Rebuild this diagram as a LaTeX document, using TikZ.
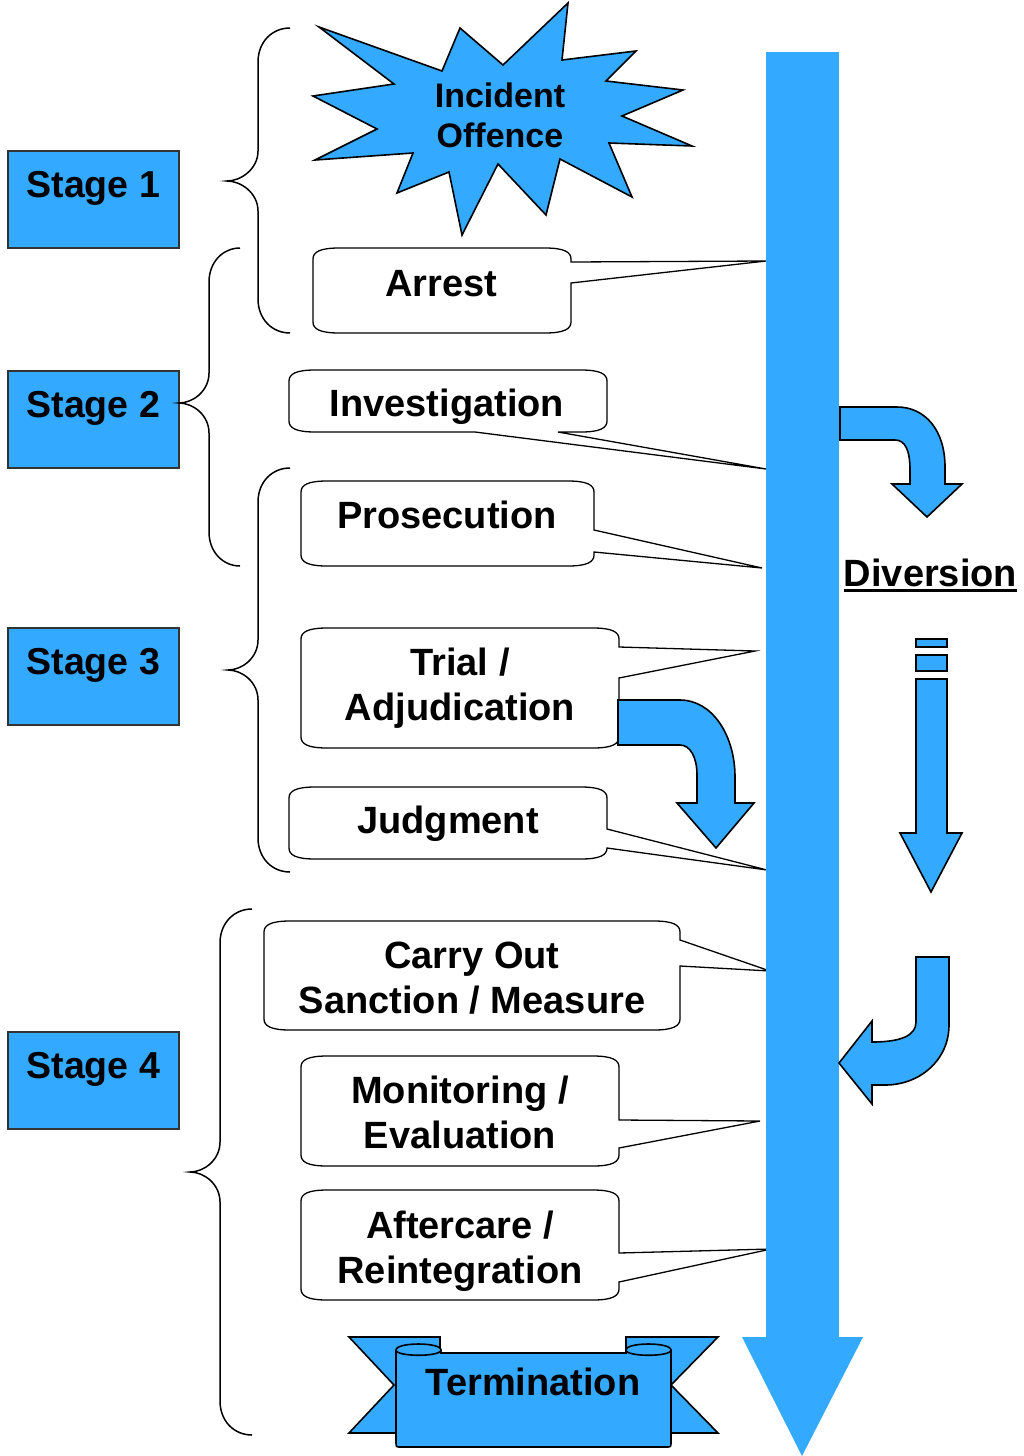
\documentclass[tikz,border=0pt]{standalone}
\usepackage{fontspec}
\setmainfont{Liberation Sans}
\usepackage{tikz}
\definecolor{stageblue}{RGB}{51,170,255}
\tikzstyle{stage} = [draw=black!80, line width=1.5pt, fill=stageblue, anchor=north west, minimum width=171pt, minimum height=97pt, inner sep=0pt, text height=27pt, text depth=31pt, font=\fontsize{37.5}{45}\selectfont\bfseries]
\tikzstyle{bubbletext} = [align=center, inner sep=0pt, font=\fontsize{38}{45}\selectfont\bfseries]
\tikzstyle{bubble} = [draw, line width=1.3pt, fill=white, line join=miter]
\tikzstyle{bluearrow} = [draw, line width=1.6pt, fill=stageblue, line join=miter]
\tikzstyle{brace} = [draw, line width=1.5pt]

% callout box: left, top, right, bottom, pointer top, pointer bottom, tip
\newcommand{\bubble}[7]{%
  \draw[bubble] (#1+26,#2) -- (#3-26,#2) .. controls (#3-7,#2) and (#3,#2+4) .. (#3,#2+11)
    -- (#3,#5) -- (#7) -- (#3,#6)
    -- (#3,#4-11) .. controls (#3,#4-4) and (#3-7,#4) .. (#3-26,#4)
    -- (#1+26,#4) .. controls (#1+7,#4) and (#1,#4-4) .. (#1,#4-11)
    -- (#1,#2+11) .. controls (#1,#2+4) and (#1+7,#2) .. (#1+26,#2) -- cycle;
}
% curly brace: end x, spine x, tip x, top, middle, bottom
\newcommand{\stagebrace}[6]{%
  \draw[brace] (#1,#4) .. controls (#2+14,#4) and (#2,#4+14) .. (#2,#4+34) -- (#2,#5-30)
    .. controls (#2,#5-12) and (#3+14,#5) .. (#3,#5) .. controls (#3+14,#5) and (#2,#5+12) .. (#2,#5+30)
    -- (#2,#6-34) .. controls (#2,#6-14) and (#2+14,#6) .. (#1,#6);
}

\begin{document}
\begin{tikzpicture}[x=1pt,y=-1pt]
  \useasboundingbox (0,0) rectangle (1024,1456);

  % stages
  \node[stage] (stage1) at (7,150) {Stage 1};
  \node[stage] (stage2) at (7,370) {Stage 2};
  \node[stage] (stage3) at (7,627) {Stage 3};
  \node[stage] (stage4) at (7,1031) {Stage 4};

  % braces
  \stagebrace{290}{258}{227}{28}{181}{333}
  \stagebrace{240}{209}{179}{248}{403}{566}
  \stagebrace{290}{258}{228}{468}{670}{872}
  \stagebrace{252}{220}{190}{909}{1172}{1435}

  % incident star
  \draw[bluearrow] (319,27) -- (442,71) -- (460,28) -- (503,65) -- (568,3) -- (562,60)
    -- (636,51) -- (606,81) -- (683,90) -- (622,116) -- (692,146) -- (609,143)
    -- (632,197) -- (560,159) -- (546,215) -- (498,164) -- (462,235) -- (449,172)
    -- (397,193) -- (413,153) -- (315,160) -- (377,129) -- (313,96) -- (394,84) -- cycle;
  \node[bubbletext, font=\fontsize{34}{40}\selectfont\bfseries] (incident) at (500,115) {Incident\\Offence};

  % points on the main flow
  \coordinate (tipArrest) at (766,261);
  \coordinate (tipInvest) at (766,469);
  \coordinate (tipProsec) at (762,568);
  \coordinate (tipTrial) at (755,651);
  \coordinate (tipJudg) at (767,870);
  \coordinate (tipSanct) at (770,971);
  \coordinate (tipMonit) at (760,1121);
  \coordinate (tipAfter) at (771,1249);

  % callouts
  \bubble{313}{248}{571}{333}{262}{283}{tipArrest}
  \node[bubbletext, anchor=base] (arrest) at (441,296.6) {Arrest};

  \draw[bubble] (315,370) -- (581,370) .. controls (600,370) and (607,374) .. (607,381)
    -- (607,421) .. controls (607,428) and (600,432) .. (581,432) -- (558,432)
    -- (tipInvest) -- (475,432) -- (315,432) .. controls (296,432) and (289,428) .. (289,421)
    -- (289,381) .. controls (289,374) and (296,370) .. (315,370) -- cycle;
  \node[bubbletext, anchor=base] (investigation) at (447,416.6) {Investigation};

  \bubble{301}{481}{594}{566}{530}{552}{tipProsec}
  \node[bubbletext, anchor=base] (prosecution) at (447,528.6) {Prosecution};

  \bubble{301}{628}{619}{748}{647}{678}{tipTrial}
  \node[bubbletext] (trial) at (460,688.2) {Trial /\\Adjudication};

  \bubble{289}{787}{607}{859}{829}{848}{tipJudg}
  \node[bubbletext, anchor=base] (judgment) at (448,833.6) {Judgment};

  \bubble{264}{921}{680}{1030}{940}{966}{tipSanct}
  \node[bubbletext] (sanction) at (472,978.2) {Carry Out\\Sanction / Measure};

  \bubble{301}{1056}{619}{1166}{1120}{1148}{tipMonit}
  \node[bubbletext] (monitoring) at (460,1112.3) {Monitoring /\\Evaluation};

  \bubble{301}{1190}{619}{1300}{1253}{1282}{tipAfter}
  \node[bubbletext] (aftercare) at (460,1251.3) {Aftercare /\\Reintegration};

  % main flow
  \fill[stageblue] (766,52) rectangle (839,1337);
  \fill[stageblue] (742,1337) -- (863,1337) -- (802,1456) -- cycle;

  % diversion arrows
  \draw[bluearrow] (840,407) -- (897,407) .. controls (925,407) and (945,430) .. (945,467)
    -- (945,484) -- (962,484) -- (927,517) -- (892,484) -- (910,484) -- (910,470)
    .. controls (910,450) and (905,440) .. (895,440) -- (840,440) -- cycle;
  \draw[bluearrow] (618,700) -- (680,700) .. controls (712,700) and (735,735) .. (735,777)
    -- (735,803) -- (754,803) -- (716,848) -- (677,803) -- (697,803) -- (697,775)
    .. controls (697,757) and (690,745) .. (680,745) -- (618,745) -- cycle;
  \draw[bluearrow] (916,639) rectangle (947,647);
  \draw[bluearrow] (916,655) rectangle (947,671);
  \draw[bluearrow] (916,679) -- (947,679) -- (947,833) -- (962,833) -- (931,892)
    -- (900,833) -- (916,833) -- cycle;
  \draw[bluearrow] (916,957) -- (949,957) -- (949,1025) .. controls (949,1060) and (920,1085) .. (885,1085)
    -- (872,1085) -- (872,1104) -- (839,1063) -- (872,1021) -- (872,1042)
    .. controls (900,1042) and (916,1036) .. (916,1022) -- cycle;

  \node[bubbletext, anchor=base] (diversion) at (930.5,586.6) {Diversion};
  \draw[line width=3pt] ([yshift=-4pt]diversion.base west) -- ([yshift=-4pt]diversion.base east);

  % termination banner
  \draw[bluearrow] (349,1337) -- (440,1337) -- (440,1433) -- (349,1433) -- (394,1385) -- cycle;
  \draw[bluearrow] (718,1337) -- (626,1337) -- (626,1433) -- (718,1433) -- (671,1385) -- cycle;
  \draw[bluearrow] (396,1350) .. controls (396,1342) and (441,1342) .. (441,1350) -- (441,1353)
    -- (626,1353) -- (626,1350) .. controls (626,1342) and (671,1342) .. (671,1350)
    -- (671,1442) .. controls (671,1447) .. (666,1447) -- (401,1447)
    .. controls (396,1447) .. (396,1442) -- cycle;
  \draw[line width=1.6pt] (396,1350) .. controls (396,1357) and (441,1357) .. (441,1350);
  \draw[line width=1.6pt] (626,1350) .. controls (626,1357) and (671,1357) .. (671,1350);
  \node[bubbletext, anchor=base] (termination) at (533,1395.6) {Termination};
\end{tikzpicture}
\end{document}
